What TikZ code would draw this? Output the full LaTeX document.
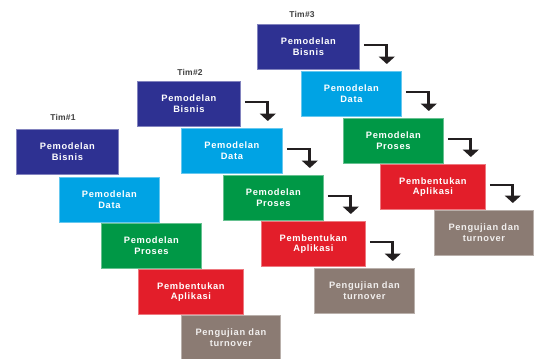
\documentclass[tikz,border=0pt]{standalone}
\usepackage{fontspec}
\setmainfont{Liberation Sans}
\newfontfamily\boxfont{Liberation Sans}[LetterSpace=7]
\newfontfamily\labfont{Liberation Sans}[LetterSpace=3]
\usetikzlibrary{arrows.meta,calc}
\definecolor{cnavy}{HTML}{2E3192}
\definecolor{cblue}{HTML}{00A3E4}
\definecolor{cgreen}{HTML}{009846}
\definecolor{cred}{HTML}{E31E2A}
\definecolor{cbrown}{HTML}{8B7B73}
\definecolor{carrow}{HTML}{231F20}
\begin{document}
\begin{tikzpicture}[x=1pt,y=-1pt,
  stagebox/.style={anchor=north west, inner sep=0pt, minimum height=45pt,
    align=center, text=white, line width=0.8pt,
    font=\boxfont\bfseries\fontsize{9.3}{10.5}\selectfont},
  bisnis/.style={stagebox, fill=cnavy, draw=cnavy!60!white},
  databox/.style={stagebox, fill=cblue, draw=cblue!60!white},
  proses/.style={stagebox, fill=cgreen, draw=cgreen!60!white},
  aplikasi/.style={stagebox, fill=cred, draw=cred!60!white},
  uji/.style={stagebox, fill=cbrown, draw=cbrown!60!white, text=white!88!cbrown},
  timlabel/.style={inner sep=0pt, text=black!75, font=\labfont\bfseries\fontsize{8.5}{9}\selectfont},
  flowarrow/.style={draw=carrow, line width=2.8pt, line join=miter,
    -{Triangle[width=16pt,length=7.5pt]}}
]
\useasboundingbox (0,0) rectangle (536,359);

% Team 1
\node[timlabel] (L1) at (63,117) {Tim\#1};
\node[bisnis, minimum width=102pt] (B1) at (16,129) {Pemodelan\\Bisnis};
\node[databox, minimum width=100pt] (D1) at (59,177) {Pemodelan\\Data};
\node[proses, minimum width=100pt] (P1) at (101,223) {Pemodelan\\Proses};
\node[aplikasi, minimum width=105pt] (A1) at (138,269) {Pembentukan\\Aplikasi};
\node[uji, minimum width=99pt] (T1) at (181,315) {Pengujian dan\\turnover};

% Team 2
\node[timlabel] (L2) at (190,72) {Tim\#2};
\node[bisnis, minimum width=103pt] (B2) at (137,81) {Pemodelan\\Bisnis};
\node[databox, minimum width=101pt] (D2) at (181,128) {Pemodelan\\Data};
\node[proses, minimum width=100pt] (P2) at (223,175) {Pemodelan\\Proses};
\node[aplikasi, minimum width=104pt] (A2) at (261,221) {Pembentukan\\Aplikasi};
\node[uji, minimum width=100pt] (T2) at (314,268) {Pengujian dan\\turnover};

% Team 3
\node[timlabel] (L3) at (302,14) {Tim\#3};
\node[bisnis, minimum width=102pt] (B3) at (257,24) {Pemodelan\\Bisnis};
\node[databox, minimum width=100pt] (D3) at (301,71) {Pemodelan\\Data};
\node[proses, minimum width=100pt] (P3) at (343,118) {Pemodelan\\Proses};
\node[aplikasi, minimum width=105pt] (A3) at (380,164) {Pembentukan\\Aplikasi};
\node[uji, minimum width=99pt] (T3) at (434,210) {Pengujian dan\\turnover};

% arrows
\foreach \a/\b in {B2/D2, D2/P2, P2/A2, A2/T2, B3/D3, D3/P3, P3/A3, A3/T3}{
  \draw[flowarrow] ($(\a.north east)+(4,21)$) -| ($(\a.north east |- \b.north)+(27,-7)$);
}
\end{tikzpicture}
\end{document}
